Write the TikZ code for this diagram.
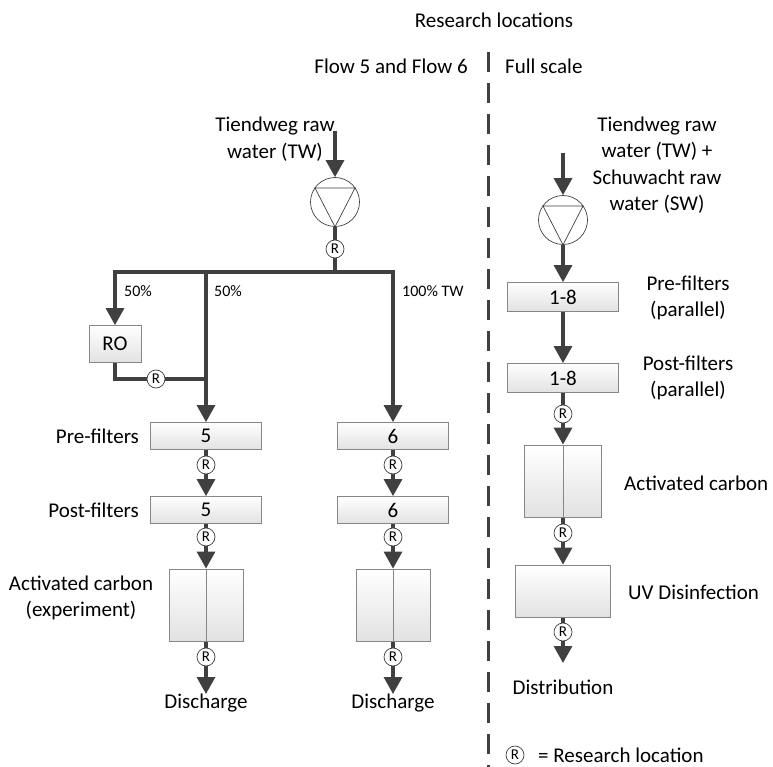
\documentclass[tikz,border=0pt]{standalone}
\usepackage{fontspec}
\setmainfont{Carlito}
\usetikzlibrary{arrows.meta,positioning,backgrounds}
\definecolor{pipegray}{RGB}{64,64,64}
\definecolor{boxgray}{RGB}{135,135,135}
\definecolor{boxfill}{RGB}{226,226,226}

\begin{document}
\begin{tikzpicture}[x=1pt,y=-1pt,
  pipe/.style={draw=pipegray, line width=3.2pt},
  flow/.style={pipe, -{Triangle[width=18pt,length=17pt]}},
  unit/.style={draw=boxgray, line width=0.8pt, top color=white, bottom color=boxfill, inner sep=0pt, font=\fontsize{21}{25}\selectfont},
  rmark/.style={circle, draw=pipegray, line width=0.7pt, fill=white, inner sep=0pt, minimum size=18pt, font=\fontsize{15}{15}\selectfont},
  pump/.style={circle, draw=pipegray, line width=0.7pt, fill=white, inner sep=0pt, minimum size=49pt},
  lbl/.style={font=\fontsize{21}{26.5}\selectfont, align=center, inner sep=0pt},
  pct/.style={font=\fontsize{16}{18}\selectfont, inner sep=0pt, anchor=west}]
%% Page size, same as the reference
\useasboundingbox (0,0) rectangle (773,767);

%% Headings and the separator
\node[lbl] (title) at (494,20) {Research locations};
\node[lbl, anchor=east] (flowtitle) at (468,66) {Flow 5 and Flow 6};
\node[lbl, anchor=west] (fulltitle) at (505,66) {Full scale};
\coordinate (septop) at (488,52);
\coordinate (sepbot) at (488,767);
\draw[pipegray, line width=3pt, dash pattern=on 20pt off 11pt] (septop) -- (sepbot);

%% Flow 5 and Flow 6: intake and split
\node[lbl] (srcL) at (275,139) {Tiendweg raw\\water (TW)};
\coordinate (inL) at (335,131);
\node[pump] (pumpL) at (335,202) {};
\draw[pipegray, line width=0.7pt] (pumpL.center) ++(-20,-14) -- ++(40,0) -- (pumpL.south) -- cycle;
\node[rmark] (rL) at (335,249) {R};
\coordinate (busM) at (335,272);
\coordinate (bus5) at (206,272);
\node[pct] (pctRO) at (124,291) {50\%};
\node[pct] (pct5) at (214,291) {50\%};
\node[pct] (pct6) at (402,291) {100\% TW};

%% RO branch
\node[unit, minimum width=52pt, minimum height=37pt] (ro) at (115,344) {RO};
\node[rmark] (rRO) at (156,379) {R};
\coordinate (join5) at (206,379);

%% Flow 5
\node[unit, minimum width=111pt, minimum height=27pt] (pre5) at (206,436) {5};
\node[lbl, left=11pt of pre5] (pre5lbl) {Pre-filters};
\node[rmark] (r5a) at (206,465) {R};
\node[unit, minimum width=111pt, minimum height=27pt] (post5) at (206,510) {5};
\node[lbl, left=11pt of post5] (post5lbl) {Post-filters};
\node[rmark] (r5b) at (206,537) {R};
\node[unit, minimum width=74pt, minimum height=72pt] (ac5) at (206,605) {};
\draw[boxgray, line width=0.8pt] (ac5.north) -- (ac5.south);
\node[lbl] (ac5lbl) at (81,598) {Activated carbon\\(experiment)};
\node[rmark] (r5c) at (206,657) {R};
\node[lbl, anchor=north] (dis5) at (206,694) {Discharge};

%% Flow 6
\node[unit, minimum width=111pt, minimum height=27pt] (pre6) at (393,436) {6};
\node[rmark] (r6a) at (393,465) {R};
\node[unit, minimum width=111pt, minimum height=27pt] (post6) at (393,510) {6};
\node[rmark] (r6b) at (393,537) {R};
\node[unit, minimum width=74pt, minimum height=72pt] (ac6) at (393,605) {};
\draw[boxgray, line width=0.8pt] (ac6.north) -- (ac6.south);
\node[rmark] (r6c) at (393,657) {R};
\node[lbl, anchor=north] (dis6) at (393,694) {Discharge};

%% Full scale
\node[lbl] (srcR) at (657,165) {Tiendweg raw\\water (TW) +\\Schuwacht raw\\water (SW)};
\coordinate (inR) at (563,153);
\node[pump] (pumpR) at (563,220) {};
\draw[pipegray, line width=0.7pt] (pumpR.center) ++(-20,-14) -- ++(40,0) -- (pumpR.south) -- cycle;
\node[unit, minimum width=111pt, minimum height=29pt] (preF) at (563,297) {1-8};
\node[lbl] (preFlbl) at (688,298) {Pre-filters\\(parallel)};
\node[unit, minimum width=111pt, minimum height=29pt] (postF) at (563,378) {1-8};
\node[lbl] (postFlbl) at (688,378) {Post-filters\\(parallel)};
\node[rmark] (rFa) at (563,414) {R};
\node[unit, minimum width=77pt, minimum height=72pt] (acF) at (563,481) {};
\draw[boxgray, line width=0.8pt] (acF.north) -- (acF.south);
\node[lbl, anchor=west] (acFlbl) at (624,483) {Activated carbon};
\node[rmark] (rFb) at (563,533) {R};
\node[unit, minimum width=95pt, minimum height=52pt] (uv) at (563,591) {};
\node[lbl, anchor=west] (uvlbl) at (628,592) {UV Disinfection};
\node[rmark] (rFc) at (563,632) {R};
\node[lbl, anchor=north] (dist) at (563,680) {Distribution};

%% Legend
\node[rmark] (rkey) at (515,755) {R};
\node[lbl, anchor=west] (keytext) at (538,755) {= Research location};

%% Pipes go behind the boxes and the R marks
\begin{scope}[on background layer]
  \draw[flow] (inL) -- (pumpL.north);
  \draw[pipe] (pumpL.south) -- (busM);
  \draw[flow] (bus5) -| (ro.north);
  \draw[flow] (bus5) -| (pre6.north);
  \draw[flow] (bus5) -- (pre5.north);
  \draw[pipe] (ro.south) |- (join5);
  \draw[flow] (pre5.south) -- (post5.north);
  \draw[flow] (post5.south) -- (ac5.north);
  \draw[flow] (ac5.south) -- (dis5.north);
  \draw[flow] (pre6.south) -- (post6.north);
  \draw[flow] (post6.south) -- (ac6.north);
  \draw[flow] (ac6.south) -- (dis6.north);
  \draw[flow] (inR) -- (pumpR.north);
  \draw[flow] (pumpR.south) -- (preF.north);
  \draw[flow] (preF.south) -- (postF.north);
  \draw[flow] (postF.south) -- (acF.north);
  \draw[flow] (acF.south) -- (uv.north);
  \draw[flow, shorten >=17pt] (uv.south) -- (dist.north);
\end{scope}
\end{tikzpicture}
\end{document}
